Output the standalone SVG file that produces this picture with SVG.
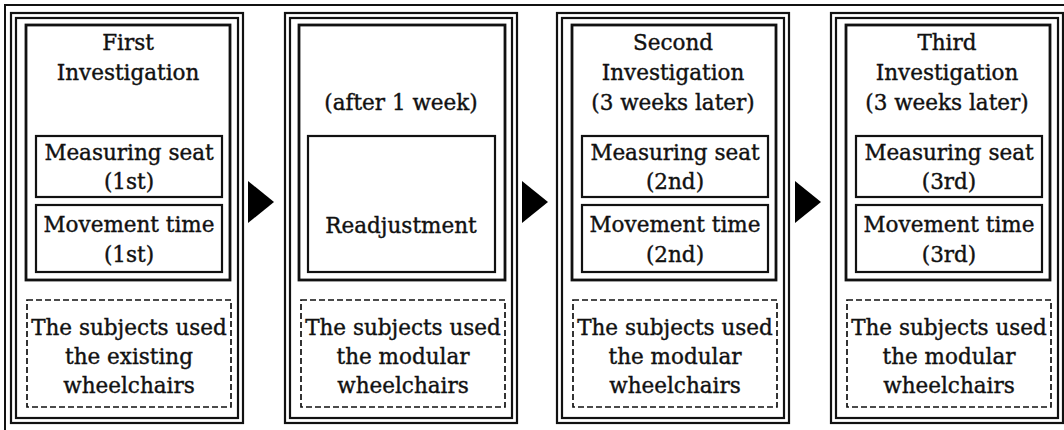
<svg xmlns="http://www.w3.org/2000/svg" width="1064" height="430" viewBox="0 0 1064 430">
<defs>
<style>
.bg{fill:#fff}
.frame{fill:none;stroke:#111;stroke-width:2}
.o1{fill:none;stroke:#111;stroke-width:2.2}
.o2{fill:none;stroke:#111;stroke-width:2.2}
.in{fill:none;stroke:#111;stroke-width:2.8}
.sub{fill:none;stroke:#111;stroke-width:2.2}
.dash{fill:none;stroke:#111;stroke-width:1.7;stroke-dasharray:6 3}
.t{font-family:"DejaVu Serif","Liberation Serif",serif;font-size:21.5px;text-anchor:middle;fill:#111;stroke:#111;stroke-width:0.4}
.arrow{fill:#000}
</style>
</defs>
<rect class="bg" x="0" y="0" width="1064" height="430"/>
<rect class="frame" x="5" y="5" width="1070" height="440"/>

<g id="panel1" transform="translate(11,0)">
<rect class="o1" x="0" y="13" width="232" height="410"/>
<rect class="o2" x="5" y="18" width="222" height="400"/>
<rect class="in" x="15" y="25" width="204" height="255"/>
<rect class="sub" x="25" y="136" width="186" height="61"/>
<rect class="sub" x="25" y="205" width="186" height="67"/>
<rect class="dash" x="16" y="300" width="204" height="107"/>
<text class="t" x="117" y="50">First</text>
<text class="t" x="117" y="80">Investigation</text>
<text class="t" x="118" y="160">Measuring seat</text>
<text class="t" x="118" y="189">(1st)</text>
<text class="t" x="118" y="232">Movement time</text>
<text class="t" x="118" y="262">(1st)</text>
<text class="t" x="118" y="335">The subjects used</text>
<text class="t" x="118" y="364">the existing</text>
<text class="t" x="118" y="393">wheelchairs</text>
</g>

<g id="panel2" transform="translate(285,0)">
<rect class="o1" x="0" y="13" width="232" height="410"/>
<rect class="o2" x="5" y="18" width="222" height="400"/>
<rect class="in" x="14" y="25" width="206" height="255"/>
<rect class="sub" x="23" y="136" width="187" height="136"/>
<rect class="dash" x="16" y="300" width="204" height="107"/>
<text class="t" x="116" y="110">(after 1 week)</text>
<text class="t" x="116" y="233">Readjustment</text>
<text class="t" x="118" y="335">The subjects used</text>
<text class="t" x="118" y="364">the modular</text>
<text class="t" x="118" y="393">wheelchairs</text>
</g>

<g id="panel3" transform="translate(557,0)">
<rect class="o1" x="0" y="13" width="232" height="410"/>
<rect class="o2" x="5" y="18" width="222" height="400"/>
<rect class="in" x="15" y="25" width="204" height="255"/>
<rect class="sub" x="25" y="136" width="186" height="61"/>
<rect class="sub" x="25" y="205" width="186" height="67"/>
<rect class="dash" x="16" y="300" width="204" height="107"/>
<text class="t" x="116" y="50">Second</text>
<text class="t" x="116" y="80">Investigation</text>
<text class="t" x="116" y="110">(3 weeks later)</text>
<text class="t" x="118" y="160">Measuring seat</text>
<text class="t" x="118" y="189">(2nd)</text>
<text class="t" x="118" y="232">Movement time</text>
<text class="t" x="118" y="262">(2nd)</text>
<text class="t" x="118" y="335">The subjects used</text>
<text class="t" x="118" y="364">the modular</text>
<text class="t" x="118" y="393">wheelchairs</text>
</g>

<g id="panel4" transform="translate(831,0)">
<rect class="o1" x="0" y="13" width="232" height="410"/>
<rect class="o2" x="5" y="18" width="222" height="400"/>
<rect class="in" x="15" y="25" width="204" height="255"/>
<rect class="sub" x="25" y="136" width="186" height="61"/>
<rect class="sub" x="25" y="205" width="186" height="67"/>
<rect class="dash" x="16" y="300" width="204" height="107"/>
<text class="t" x="116" y="50">Third</text>
<text class="t" x="116" y="80">Investigation</text>
<text class="t" x="116" y="110">(3 weeks later)</text>
<text class="t" x="118" y="160">Measuring seat</text>
<text class="t" x="118" y="189">(3rd)</text>
<text class="t" x="118" y="232">Movement time</text>
<text class="t" x="118" y="262">(3rd)</text>
<text class="t" x="118" y="335">The subjects used</text>
<text class="t" x="118" y="364">the modular</text>
<text class="t" x="118" y="393">wheelchairs</text>
</g>

<g id="connectors">
<polygon class="arrow" points="248,181 248,223 274,202"/>
<polygon class="arrow" points="522,181 522,223 548,202"/>
<polygon class="arrow" points="795,181 795,223 821,202"/>
</g>
</svg>
